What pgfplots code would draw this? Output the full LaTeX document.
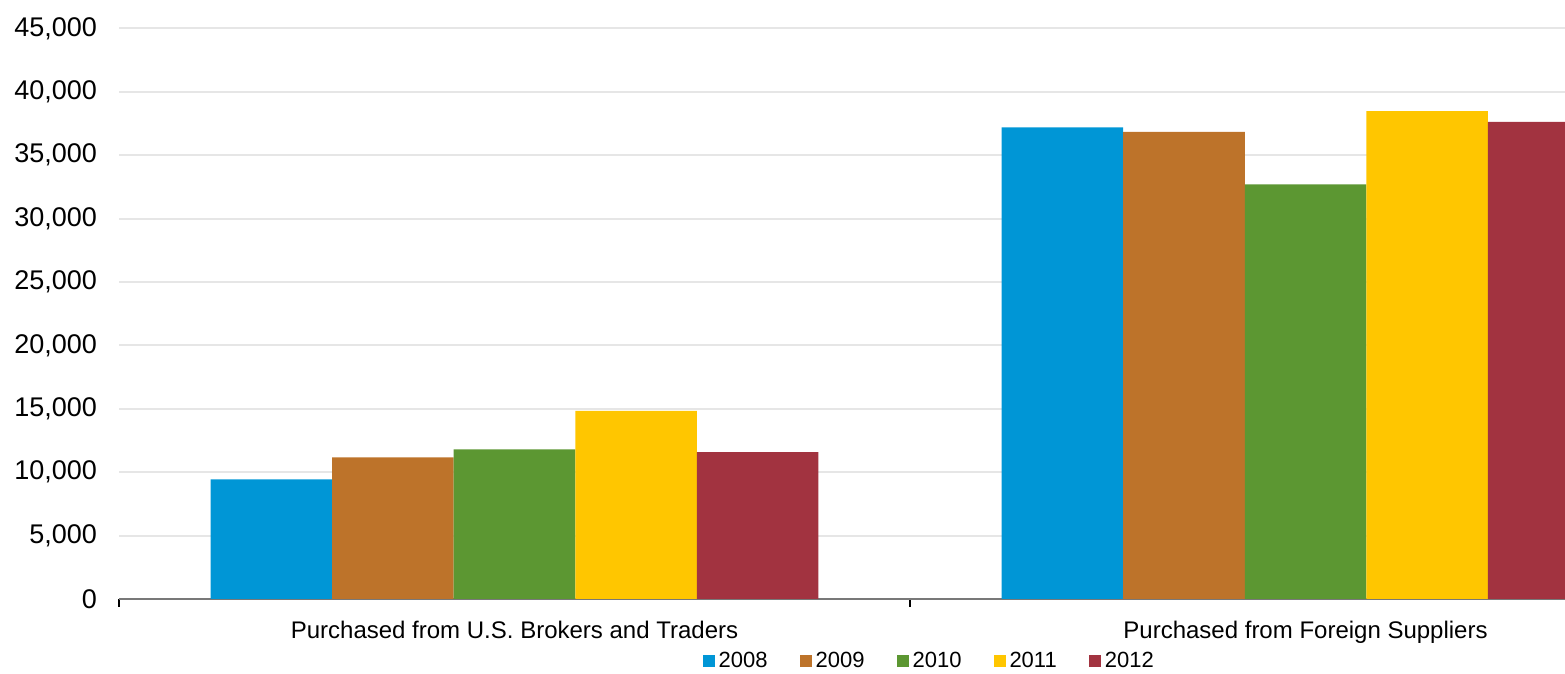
\documentclass[border=0pt]{standalone}
\usepackage{fontspec}
\setmainfont{Liberation Sans}
\usepackage{pgfplots}
\pgfplotsset{compat=1.18}
\definecolor{c2008}{RGB}{0,150,214}
\definecolor{c2009}{RGB}{189,115,42}
\definecolor{c2010}{RGB}{92,151,50}
\definecolor{c2011}{RGB}{255,198,0}
\definecolor{c2012}{RGB}{162,51,64}
\definecolor{gridc}{RGB}{230,230,230}
\definecolor{axc}{RGB}{120,120,120}
\begin{document}
\begin{tikzpicture}
\begin{axis}[
  scale only axis,
  width=723pt, height=285.25pt,
  xmin=-0.5, xmax=1.328,
  ymin=0, ymax=45000,
  ytick={0,5000,...,45000},
  scaled y ticks=false,
  /pgf/number format/.cd, 1000 sep={,}, assume math mode=true,
  /pgfplots/.cd,
  ymajorgrids, grid style={gridc, line width=1pt},
  axis lines*=left,
  y axis line style={draw=none},
  x axis line style={axc, line width=1pt, -},
  tick align=outside,
  xtick={-0.5,0.5,1.5},
  xticklabels={},
  xtick style={draw=black, line width=0.6pt},
  major tick length=4pt,
  extra x ticks={0,1},
  extra x tick labels={Purchased from U.S. Brokers and Traders, Purchased from Foreign Suppliers},
  extra x tick style={xtick style={draw=none}},
  xticklabel style={font=\fontsize{12}{14}\selectfont, inner ysep=7pt},
  yticklabel style={font=\fontsize{13.5}{15}\selectfont, xshift=-3.5pt},
  ytick style={draw=none},
  ybar, bar width=0.1537,
  legend style={at={(0.561,-0.1087)}, anchor=center, legend columns=5, draw=none,
    font=\fontsize{11}{13}\selectfont, /tikz/every even column/.append style={column sep=14pt}},
  legend image code/.code={\fill[#1] (0pt,-3pt) rectangle (6pt,3pt);},
  clip=true,
]
\addplot[fill=c2008, draw=none, bar shift=-0.3074] coordinates {(0,9440) (1,37200)};
\addplot[fill=c2009, draw=none, bar shift=-0.1537] coordinates {(0,11170) (1,36850)};
\addplot[fill=c2010, draw=none, bar shift=0] coordinates {(0,11800) (1,32700)};
\addplot[fill=c2011, draw=none, bar shift=0.1537] coordinates {(0,14830) (1,38490)};
\addplot[fill=c2012, draw=none, bar shift=0.3074] coordinates {(0,11590) (1,37640)};
\legend{2008,2009,2010,2011,2012}
\end{axis}
\pgfresetboundingbox
\useasboundingbox ([shift={(-59.5pt,-37.5pt)}]current axis.south west) rectangle ([shift={(0pt,14.25pt)}]current axis.north east);
\end{tikzpicture}
\end{document}
